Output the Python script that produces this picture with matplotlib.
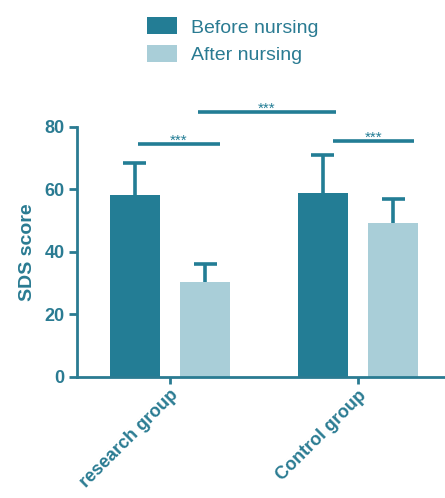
import matplotlib
matplotlib.use("Agg")
import matplotlib.pyplot as plt
import numpy as np

plt.rcParams['font.family'] = ['Liberation Sans', 'DejaVu Sans']

groups = ["research group", "Control group"]
series = ["Before nursing", "After nursing"]
means_before = [58.2, 59.0]
err_before = [10.3, 12.0]
means_after = [30.5, 49.3]
err_after = [5.7, 7.7]

# significance brackets: (x_left, x_right, y, label)
sig = [(-0.17, 0.266, 74.4, "***"),
       (0.149, 0.883, 84.8, "***"),
       (0.867, 1.298, 75.5, "***")]

dark = "#237d95"
light = "#a9ced8"
axc = "#2a7b92"

fig = plt.figure(figsize=(4.45, 4.98), dpi=100)
ax = fig.add_axes([0.173, 0.243, 0.827, 0.502])

x = np.arange(len(groups))
w = 0.266
off = 0.188
cap = 0.062
ax.bar(x - off, means_before, w, color=dark, label=series[0], zorder=2)
ax.bar(x + off, means_after, w, color=light, label=series[1], zorder=2)
for xs, m, e in [(x - off, means_before, err_before), (x + off, means_after, err_after)]:
    m = np.array(m); e = np.array(e)
    ax.vlines(xs, m, m + e, color=dark, lw=2.6, zorder=1)
    ax.hlines(m + e, xs - cap, xs + cap, color=dark, lw=2.6, zorder=1)

for xl, xr, yy, lab in sig:
    ax.plot([xl, xr], [yy, yy], color=dark, lw=2.6, clip_on=False,
            solid_capstyle="butt")
    ax.text((xl + xr) / 2, yy - 1.2, lab, ha="center", va="bottom",
            color=dark, fontsize=11, clip_on=False)

ax.set_xlim(-0.495, 1.463)
ax.set_ylim(0, 80)
ax.set_yticks([0, 20, 40, 60, 80])
ax.set_xticks(x)
ax.set_xticklabels(groups, rotation=45, ha="right", rotation_mode="anchor",
                   fontweight="bold", fontsize=13, color=axc)
for lab in ax.get_yticklabels():
    lab.set_fontweight("bold")
ax.tick_params(axis="y", labelsize=13, labelcolor=axc, color=axc,
               width=2, length=6, direction="out", pad=3)
ax.tick_params(axis="x", color=axc, width=2, length=5, direction="out", pad=2)
ax.set_ylabel("SDS score", fontsize=14, fontweight="bold", color=axc,
              labelpad=6)
for s in ["top", "right"]:
    ax.spines[s].set_visible(False)
for s in ["left", "bottom"]:
    ax.spines[s].set_color(axc)
    ax.spines[s].set_linewidth(2)

leg = fig.legend(loc="upper left", bbox_to_anchor=(0.29, 1.0), frameon=False,
                 fontsize=14, handlelength=1.55, handleheight=0.95,
                 labelspacing=0.45, handletextpad=0.75)
for t in leg.get_texts():
    t.set_color(axc)

fig.savefig("out.png", dpi=100)
